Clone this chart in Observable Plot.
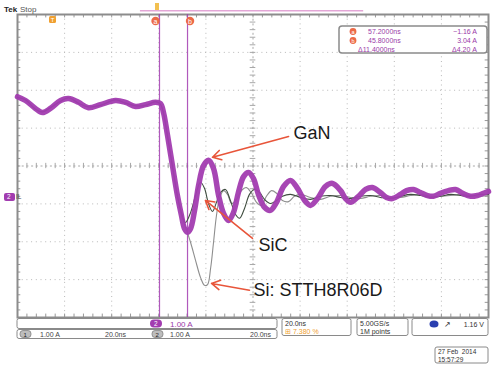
<!DOCTYPE html>
<html>
<head>
<meta charset="utf-8">
<script src="https://cdn.jsdelivr.net/npm/d3@7"></script>
<script src="https://cdn.jsdelivr.net/npm/@observablehq/plot@0.6"></script>
<style>
html,body{margin:0;padding:0;background:#fff;}
#chart{position:relative;width:500px;height:374px;overflow:hidden;}
</style>
</head>
<body>
<div id="chart"></div>
<script>
// ---- Data (time in ns, current in A; 20 ns/div, 1.00 A/div) ----
const gridTimes = [0, 20, 40, 60, 80, 100, 120, 140, 160, 180, 200];
const gridCurrents = [-3.17, -2.17, -1.17, -0.17, 0.83, 1.83, 2.83, 3.83, 4.83];
const cursorTimes = [60.3, 72.2];
const cursorLabels = ["a", "b"];

// GaN (thick magenta trace)
const ganT = [0.0,3.4,7.6,10.6,14.0,18.3,21.7,25.9,30.1,35.2,41.6,45.9,50.1,54.4,58.6,60.7,62.0,63.7,65.8,67.9,69.6,70.9,72.2,73.5,75.2,76.9,79.0,81.1,83.2,85.4,87.5,89.6,91.7,93.8,96.0,98.1,100.2,102.3,104.9,107.4,110.0,113.0,115.9,118.9,121.9,124.4,127.4,130.8,133.8,137.2,139.3,141.4,144.8,147.8,150.7,154.1,156.7,159.2,162.6,165.2,168.2,171.1,174.1,176.6,179.6,183.0,186.0,189.0,192.4,195.3,197.9,200.0];
const ganI = [2.66,2.56,2.35,2.24,2.35,2.56,2.61,2.51,2.37,2.45,2.56,2.51,2.40,2.45,2.51,2.48,2.24,1.64,0.84,0.05,-0.47,-0.82,-0.92,-0.82,-0.34,0.32,0.84,0.98,0.77,0.05,-0.42,-0.61,-0.40,0.13,0.55,0.66,0.50,0.08,-0.26,-0.34,-0.13,0.29,0.45,0.24,-0.08,-0.21,-0.03,0.29,0.37,0.18,-0.03,-0.13,0.03,0.21,0.26,0.13,0.00,-0.03,0.08,0.18,0.21,0.13,0.05,0.03,0.11,0.18,0.21,0.11,0.03,0.05,0.11,0.16];

// Common part before the diodes separate (same switching edge for all three)
const sharedT = [0.0,3.4,7.6,10.6,14.0,18.3,21.7,25.9,30.1,35.2,41.6,45.9,50.1,54.4,58.6,60.7,62.0,63.7,65.8,67.9];
const sharedI = [2.64,2.58,2.33,2.26,2.37,2.54,2.63,2.49,2.39,2.43,2.58,2.49,2.42,2.43,2.53,2.46,2.22,1.62,0.82,0.04];

// SiC (dark thin trace)
const sicT = [69.6,71.3,73.5,75.6,77.7,79.4,81.1,82.8,84.5,86.2,88.3,90.4,92.6,94.3,96.4,98.5,100.6,102.8,104.9,107.4,110.0,112.5,115.9,120.2,124.4,128.7,132.9,137.2,141.4,145.6,149.9,154.1,158.4,162.6,166.9,171.1,175.4,179.6,183.9,188.1,192.4,196.6,200.0];
const sicI = [-0.40,-0.66,-0.40,0.05,0.40,0.24,-0.16,-0.37,-0.13,0.13,0.21,-0.08,-0.45,-0.55,-0.29,0.08,0.21,0.13,-0.05,-0.16,-0.08,0.03,0.08,0.00,-0.05,0.03,0.05,0.00,-0.03,0.03,0.05,0.00,-0.03,0.03,0.08,0.05,0.00,0.03,0.08,0.05,0.03,0.08,0.08];

// Si: STTH8R06D (light grey thin trace)
const siT = [69.6,71.3,73.5,75.6,77.7,79.4,80.7,82.0,83.2,84.5,85.8,87.5,89.2,90.9,93.0,95.1,97.2,99.4,101.5,103.6,105.7,107.9,110.0,112.5,115.1,117.6,120.2,124.4,128.7,132.9,137.2,141.4,145.6,149.9,154.1,158.4,162.6,166.9,171.1,175.4,179.6,183.9,188.1,192.4,196.6,200.0];
const siI = [-0.47,-0.77,-1.19,-1.66,-2.11,-2.32,-2.30,-1.87,-1.21,-0.47,-0.03,0.18,0.08,-0.16,-0.05,0.18,0.26,0.11,-0.13,-0.21,0.03,0.18,0.11,-0.08,-0.11,0.03,0.08,0.00,-0.05,0.03,0.05,0.00,-0.03,0.03,0.05,0.00,0.00,0.05,0.08,0.03,0.03,0.05,0.08,0.05,0.03,0.05];

// Annotations
const labelNames = ["GaN", "SiC", "Si: STTH8R06D"];
const labelT = [117.2, 102.3, 100.2];
const labelI = [1.69, -1.27, -2.45];
const arrowFromT = [115.1, 99.8, 98.5];
const arrowFromI = [1.61, -1.08, -2.45];
const arrowToT = [82.8, 79.8, 82.4];
const arrowToI = [1.06, -0.08, -2.27];

// Readouts
const readA = ["57.2000ns", "\u22121.16 A"];
const readB = ["45.8000ns", "3.04 A"];
const readD = ["\u039411.4000ns", "\u03944.20 A"];

// ---- Build tables ----
const zip = (ts, is) => ts.map((t, k) => ({t, i: is[k]}));
const gan = zip(ganT, ganI);
const shared = zip(sharedT, sharedI);
const sic = shared.concat(zip(sicT, sicI));
const si = shared.concat(zip(siT, siI));
const labels = labelNames.map((n, k) => ({n, t: labelT[k], i: labelI[k]}));
const arrows = labelNames.map((n, k) => ({x1: arrowFromT[k], y1: arrowFromI[k], x2: arrowToT[k], y2: arrowToI[k]}));

const yMin = gridCurrents[0], yMax = gridCurrents[gridCurrents.length - 1];
const yCenter = gridCurrents[4];
const minorT = d3.range(0, 200.01, 4);
const minorI = d3.range(0, 40.01).map(k => yMin + k * 0.2);

const MAG = "#a23cb0";
const plot = Plot.plot({
  width: 500, height: 374,
  marginLeft: 17, marginRight: 12, marginTop: 14, marginBottom: 57,
  x: {domain: [0, 200], axis: null},
  y: {domain: [yMin, yMax], axis: null},
  style: {background: "#fff", fontFamily: "Liberation Sans, Arial, sans-serif"},
  marks: [
    // dotted grid
    Plot.ruleX(gridTimes.slice(1, -1).filter(d => d !== 100), {stroke: "#b8b8b8", strokeDasharray: "1,3.7", strokeWidth: 1}),
    Plot.ruleY(gridCurrents.slice(1, -1).filter(d => d !== yCenter), {stroke: "#b8b8b8", strokeDasharray: "1,3.7", strokeWidth: 1}),
    // center cross
    Plot.ruleX([100], {stroke: "#a8a8a8", strokeDasharray: "2,2.7"}),
    Plot.ruleY([yCenter], {stroke: "#a8a8a8", strokeDasharray: "2,2.7"}),
    Plot.ruleX(minorT, {x: d => d, y1: yCenter - 0.07, y2: yCenter + 0.07, stroke: "#a8a8a8"}),
    Plot.ruleY(minorI, {y: d => d, x1: 98.8, x2: 101.2, stroke: "#a8a8a8"}),
    // border ticks
    Plot.ruleX(minorT, {x: d => d, y1: yMax, y2: yMax - 0.09, stroke: "#999"}),
    Plot.ruleX(minorT, {x: d => d, y1: yMin, y2: yMin + 0.09, stroke: "#999"}),
    Plot.ruleY(minorI, {y: d => d, x1: 0, x2: 1.4, stroke: "#999"}),
    Plot.ruleY(minorI, {y: d => d, x1: 200, x2: 198.6, stroke: "#999"}),
    Plot.frame({stroke: "#8c8c8c", strokeWidth: 2}),
    // cursors
    Plot.ruleX(cursorTimes, {stroke: MAG, strokeWidth: 1.2, strokeOpacity: 0.85}),
    // record bar at top
    Plot.ruleY([4.93], {x1: 52.2, x2: 147, stroke: "#e3a6d6", strokeWidth: 1.5}),
    // traces
    Plot.line(si, {x: "t", y: "i", stroke: "#8e8e8e", strokeWidth: 1.1, curve: "catmull-rom"}),
    Plot.line(sic, {x: "t", y: "i", stroke: "#3f4d3f", strokeWidth: 1.1, curve: "catmull-rom"}),
    Plot.line(gan, {x: "t", y: "i", stroke: MAG, strokeWidth: 5.5, curve: "catmull-rom", strokeOpacity: 0.95}),
    // annotations
    Plot.arrow(arrows, {x1: "x1", y1: "y1", x2: "x2", y2: "y2", stroke: "#e8553a", strokeWidth: 1.6, headLength: 9, bend: 0}),
    Plot.text(labels, {x: "t", y: "i", text: "n", textAnchor: "start", fontSize: 18, fill: "#1a1a1a", dx: 0})
  ]
});
document.getElementById("chart").appendChild(plot);

// ---- Oscilloscope chrome ----
const svg = d3.select(plot);
const xs = plot.scale("x"), ys = plot.scale("y");
const g = svg.append("g").attr("font-family", "Liberation Sans, Arial, sans-serif").attr("text-anchor", "start");

// Tek Stop
g.append("text").attr("x", 4).attr("y", 12).attr("font-size", 8).attr("font-weight", "bold").attr("fill", "#222").text("Tek");
g.append("text").attr("x", 20).attr("y", 12).attr("font-size", 8).attr("fill", "#555").text("Stop");

// trigger marker
g.append("rect").attr("x", 49).attr("y", 16).attr("width", 7).attr("height", 7).attr("rx", 1.5).attr("fill", "#f0a030");
g.append("text").attr("x", 52.5).attr("y", 22).attr("font-size", 6).attr("text-anchor", "middle").attr("fill", "#fff").text("T");
g.append("rect").attr("x", 155).attr("y", 3).attr("width", 4).attr("height", 7).attr("fill", "#f2c050");

// cursor markers
cursorLabels.forEach((l, k) => {
  const cx = xs.apply(cursorTimes[k]) + (k === 0 ? -3.5 : 3);
  g.append("circle").attr("cx", cx).attr("cy", 21).attr("r", 4.2).attr("fill", "#ec6a48");
  g.append("text").attr("x", cx).attr("y", 23.5).attr("font-size", 7).attr("text-anchor", "middle").attr("fill", "#fff").text(l);
});

// ground marker
const gy = ys.apply(0);
g.append("rect").attr("x", 4).attr("y", gy - 4).attr("width", 11).attr("height", 8).attr("rx", 2).attr("fill", MAG);
g.append("text").attr("x", 7).attr("y", gy + 2.5).attr("font-size", 6.5).attr("fill", "#fff").text("2");
g.append("text").attr("x", 16).attr("y", gy + 2.5).attr("font-size", 6.5).attr("fill", "#444").text("IL");

// cursor readout box
g.append("rect").attr("x", 339).attr("y", 26).attr("width", 148).attr("height", 27).attr("rx", 3)
  .attr("fill", "#fff").attr("stroke", "#8a8a8a").attr("stroke-width", 1.5);
[[readA, "a", 34], [readB, "b", 43]].forEach(([r, l, y]) => {
  g.append("circle").attr("cx", 353).attr("cy", y - 2.5).attr("r", 3.4).attr("fill", "#ec6a48");
  g.append("text").attr("x", 353).attr("y", y - 0.3).attr("font-size", 5.5).attr("text-anchor", "middle").attr("fill", "#fff").text(l);
  g.append("text").attr("x", 368).attr("y", y).attr("font-size", 7).attr("fill", "#9a3aa8").text(r[0]);
  g.append("text").attr("x", 477).attr("y", y).attr("font-size", 7).attr("text-anchor", "end").attr("fill", "#9a3aa8").text(r[1]);
});
g.append("text").attr("x", 358).attr("y", 52).attr("font-size", 7).attr("fill", "#9a3aa8").text(readD[0]);
g.append("text").attr("x", 477).attr("y", 52).attr("font-size", 7).attr("text-anchor", "end").attr("fill", "#9a3aa8").text(readD[1]);

// bottom bar
const boxStroke = "#8a8a8a";
g.append("rect").attr("x", 17).attr("y", 318.5).attr("width", 260).attr("height", 10).attr("rx", 2).attr("fill", "#fff").attr("stroke", boxStroke);
g.append("rect").attr("x", 150).attr("y", 319.5).attr("width", 12).attr("height", 8).attr("rx", 4).attr("fill", MAG);
g.append("text").attr("x", 154).attr("y", 326).attr("font-size", 6.5).attr("fill", "#fff").text("2");
g.append("text").attr("x", 170).attr("y", 327).attr("font-size", 8).attr("fill", "#9a3aa8").text("1.00 A");

g.append("rect").attr("x", 17).attr("y", 329.5).attr("width", 260).attr("height", 9).attr("rx", 2).attr("fill", "#fff").attr("stroke", boxStroke);
[[20, "1"], [152, "2"]].forEach(([x, n]) => {
  g.append("rect").attr("x", x).attr("y", 330.5).attr("width", 11).attr("height", 7).attr("rx", 3).attr("fill", "#bdbdbd").attr("stroke", "#666").attr("stroke-width", 0.6);
  g.append("text").attr("x", x + 3.5).attr("y", 336.5).attr("font-size", 6).attr("fill", "#222").text(n);
});
g.append("text").attr("x", 40).attr("y", 337).attr("font-size", 7).attr("fill", "#444").text("1.00 A");
g.append("text").attr("x", 105).attr("y", 337).attr("font-size", 7).attr("fill", "#444").text("20.0ns");
g.append("text").attr("x", 170).attr("y", 337).attr("font-size", 7).attr("fill", "#444").text("1.00 A");
g.append("text").attr("x", 250).attr("y", 337).attr("font-size", 7).attr("fill", "#444").text("20.0ns");

g.append("rect").attr("x", 282).attr("y", 318.5).attr("width", 69).attr("height", 17).attr("rx", 2).attr("fill", "#fff").attr("stroke", boxStroke);
g.append("text").attr("x", 285).attr("y", 326).attr("font-size", 7).attr("fill", "#333").text("20.0ns");
g.append("text").attr("x", 285).attr("y", 334).attr("font-size", 7).attr("fill", "#f0a030").text("\u229E 7.380 %");

g.append("rect").attr("x", 357).attr("y", 318.5).attr("width", 51).attr("height", 17).attr("rx", 2).attr("fill", "#fff").attr("stroke", boxStroke);
g.append("text").attr("x", 360).attr("y", 326).attr("font-size", 7).attr("fill", "#333").text("5.00GS/s");
g.append("text").attr("x", 360).attr("y", 334).attr("font-size", 7).attr("fill", "#333").text("1M points");

g.append("rect").attr("x", 412).attr("y", 318.5).attr("width", 76).attr("height", 17).attr("rx", 2).attr("fill", "#fff").attr("stroke", boxStroke);
g.append("ellipse").attr("cx", 434).attr("cy", 324).attr("rx", 4.5).attr("ry", 3.5).attr("fill", "#2a3fb0");
g.append("text").attr("x", 444).attr("y", 327).attr("font-size", 8).attr("fill", "#333").text("\u2197");
g.append("text").attr("x", 484).attr("y", 327).attr("font-size", 7).attr("text-anchor", "end").attr("fill", "#333").text("1.16 V");

g.append("rect").attr("x", 435).attr("y", 347).attr("width", 53).attr("height", 16).attr("rx", 2).attr("fill", "#fff").attr("stroke", boxStroke);
g.append("text").attr("x", 438).attr("y", 354).attr("font-size", 6.5).attr("fill", "#333").text("27 Feb  2014");
g.append("text").attr("x", 438).attr("y", 361.5).attr("font-size", 6.5).attr("fill", "#333").text("15:57:29");
</script>
</body>
</html>
